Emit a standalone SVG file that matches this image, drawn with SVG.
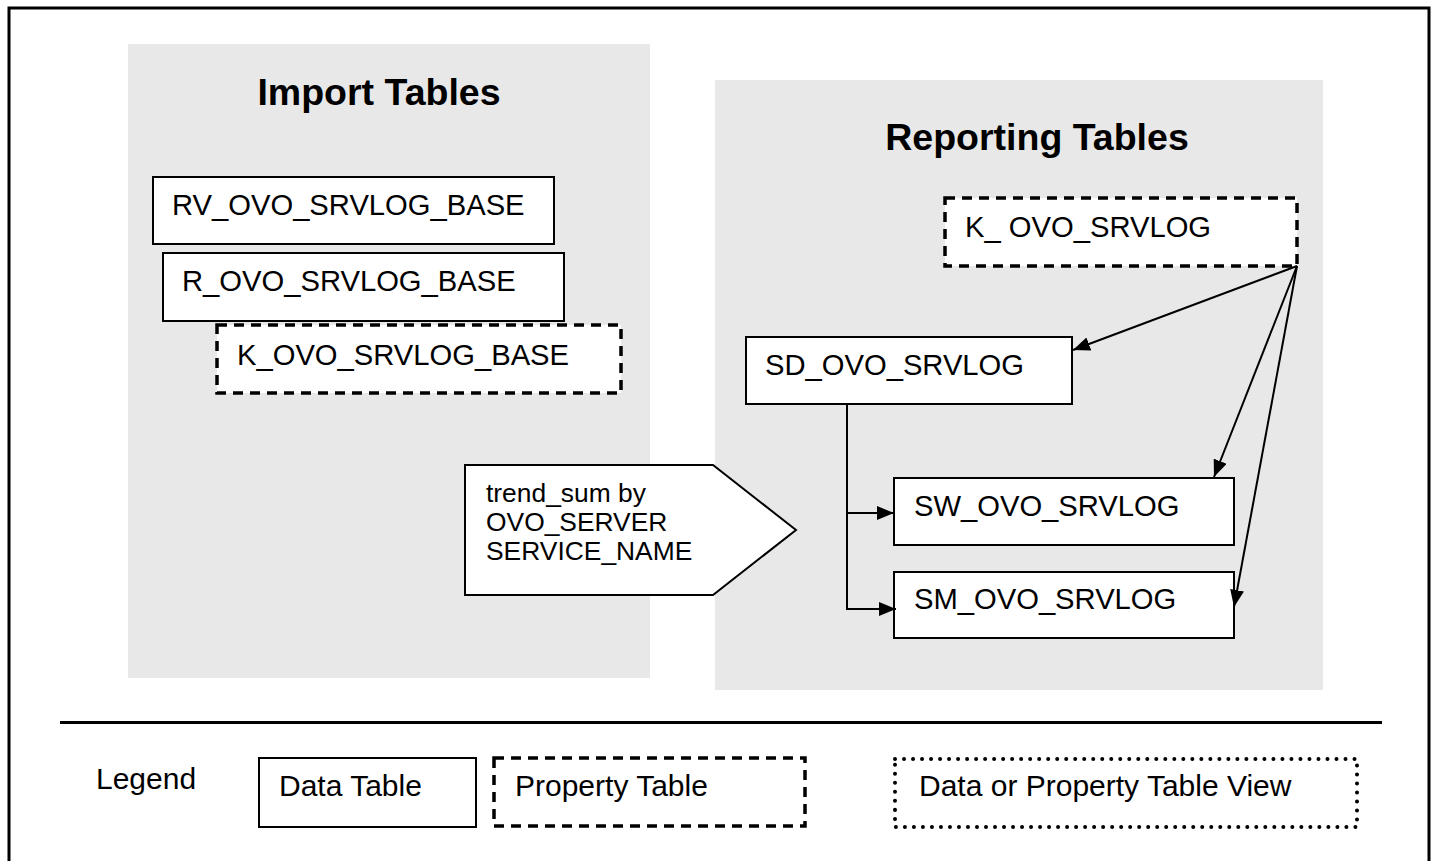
<svg xmlns="http://www.w3.org/2000/svg" width="1439" height="861" viewBox="0 0 1439 861">
<style>
.t{font-family:"Liberation Sans",Arial,sans-serif;font-size:29.2px;fill:#000}
.l{font-family:"Liberation Sans",Arial,sans-serif;font-size:30px;fill:#000}
.h{font-family:"Liberation Sans",Arial,sans-serif;font-size:37.5px;font-weight:bold;fill:#000}
.s{font-family:"Liberation Sans",Arial,sans-serif;font-size:26.4px;fill:#000}
.data{fill:#fff;stroke:#000;stroke-width:2}
.prop{fill:#fff;stroke:#000;stroke-width:3.5;stroke-dasharray:10 7}
.view{fill:#fff;stroke:#000;stroke-width:4;stroke-linecap:round;stroke-dasharray:0.01 9}
.panel{fill:#e8e8e8}
.c{fill:none;stroke:#000;stroke-width:2}
</style>
<defs>
<marker id="ah" markerUnits="userSpaceOnUse" markerWidth="18" markerHeight="14" refX="17" refY="7" orient="auto">
<path d="M0,0 L17,7 L0,14 Z" fill="#000"/>
</marker>
</defs>
<rect x="0" y="0" width="1439" height="861" fill="#fff"/>
<rect x="9" y="8" width="1420" height="880" fill="none" stroke="#000" stroke-width="3"/>
<g id="import-panel">
<rect class="panel" x="128" y="44" width="522" height="634"/>
<text class="h" x="379" y="105" text-anchor="middle">Import Tables</text>
</g>
<g id="reporting-panel">
<rect class="panel" x="715" y="80" width="608" height="610"/>
<text class="h" x="1037" y="150" text-anchor="middle">Reporting Tables</text>
</g>
<g id="rv-base">
<rect class="data" x="153" y="177" width="401" height="67"/>
<text class="t" x="172" y="215">RV_OVO_SRVLOG_BASE</text>
</g>
<g id="r-base">
<rect class="data" x="163" y="253" width="401" height="68"/>
<text class="t" x="182" y="291">R_OVO_SRVLOG_BASE</text>
</g>
<g id="k-base">
<rect class="prop" x="217" y="325" width="404" height="68"/>
<text class="t" x="237" y="365">K_OVO_SRVLOG_BASE</text>
</g>
<g id="k-srvlog">
<rect class="prop" x="945" y="198" width="352" height="68"/>
<text class="t" x="965" y="237">K_ OVO_SRVLOG</text>
</g>
<g id="sd-srvlog">
<rect class="data" x="746" y="337" width="326" height="67"/>
<text class="t" x="765" y="375">SD_OVO_SRVLOG</text>
</g>
<g id="sw-srvlog">
<rect class="data" x="894" y="478" width="340" height="67"/>
<text class="t" x="914" y="516">SW_OVO_SRVLOG</text>
</g>
<g id="sm-srvlog">
<rect class="data" x="894" y="572" width="340" height="66"/>
<text class="t" x="914" y="609">SM_OVO_SRVLOG</text>
</g>
<g id="trend-sum">
<path d="M465,465 L713,465 L796,530 L713,595 L465,595 Z" fill="#fff" stroke="#000" stroke-width="2"/>
<text class="s" x="486" y="502">trend_sum by</text>
<text class="s" x="486" y="531">OVO_SERVER</text>
<text class="s" x="486" y="560">SERVICE_NAME</text>
</g>
<g id="connectors">
<line class="c" x1="1297" y1="266" x2="1073" y2="350" marker-end="url(#ah)"/>
<line class="c" x1="1297" y1="266" x2="1214" y2="477" marker-end="url(#ah)"/>
<line class="c" x1="1297" y1="266" x2="1234" y2="607" marker-end="url(#ah)"/>
<polyline class="c" points="847,404 847,609 896,609" marker-end="url(#ah)"/>
<line class="c" x1="847" y1="513" x2="894" y2="513" marker-end="url(#ah)"/>
</g>
<line x1="60" y1="722.5" x2="1382" y2="722.5" stroke="#000" stroke-width="3"/>
<g id="legend">
<text class="l" x="96" y="789">Legend</text>
<g id="legend-data">
<rect class="data" x="259" y="758" width="217" height="69"/>
<text class="l" x="279" y="796">Data Table</text>
</g>
<g id="legend-prop">
<rect class="prop" x="494" y="758" width="311" height="68"/>
<text class="l" x="515" y="796">Property Table</text>
</g>
<g id="legend-view">
<rect class="view" x="895" y="759" width="462" height="68"/>
<text class="l" x="919" y="796">Data or Property Table View</text>
</g>
</g>
</svg>
